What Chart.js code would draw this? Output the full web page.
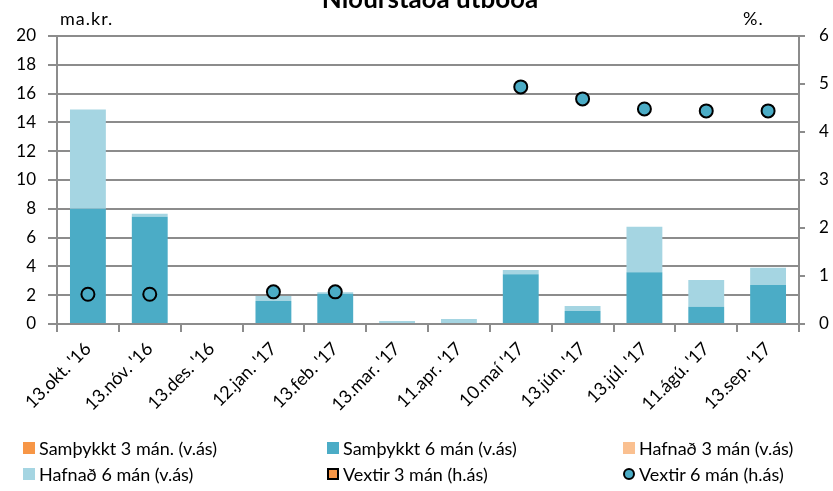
<!DOCTYPE html>
<html>
<head>
<meta charset="utf-8">
<script src="https://cdn.jsdelivr.net/npm/chart.js@4.4.0/dist/chart.umd.min.js"></script>
<style>
  body { margin: 0; background: #fff; overflow: hidden; }
  #wrap { position: relative; width: 833px; height: 491px; }
  #legend { position: absolute; left: 0; top: 436px; width: 833px; font-family: Lato, sans-serif; font-size: 18px; color: #000; }
  .item { position: absolute; white-space: nowrap; line-height: 24px; }
  .sw { position: absolute; left: 0; top: 6px; width: 12px; height: 12px; box-sizing: border-box; }
  .txt { position: absolute; left: 16px; top: 0; }
</style>
</head>
<body>
<div id="wrap">
  <canvas id="chart" width="833" height="491"></canvas>
  <div id="legend"></div>
</div>
<script>
const categories = ["13.okt. '16", "13.nóv. '16", "13.des. '16", "12.jan. '17", "13.feb. '17", "13.mar. '17",
                    "11.apr. '17", "10.maí '17", "13.jún. '17", "13.júl. '17", "11.ágú. '17", "13.sep. '17"];
// billions of kr, left axis
const samthykkt3 = [null, null, null, null, null, null, null, null, null, null, null, null];
const samthykkt6 = [8.0, 7.45, 0, 1.6, 2.1, 0, 0, 3.45, 0.9, 3.6, 1.2, 2.7];
const hafnad3    = [null, null, null, null, null, null, null, null, null, null, null, null];
const hafnad6    = [6.9, 0.2, 0, 0.35, 0.1, 0.2, 0.35, 0.3, 0.35, 3.15, 1.85, 1.2];
// percent, right axis
const vextir3 = [null, null, null, null, null, null, null, null, null, null, null, null];
const vextir6 = [0.62, 0.62, null, 0.67, 0.67, null, null, 4.94, 4.69, 4.48, 4.44, 4.44];
const leftTicks = [0, 2, 4, 6, 8, 10, 12, 14, 16, 18, 20];
const rightTicks = [0, 1, 2, 3, 4, 5, 6];

const FONT = 'Lato, sans-serif';
const gridColor = '#8c8c8c';

// title and unit labels drawn straight onto the canvas
const headerText = {
  id: 'headerText',
  afterDraw(chart) {
    const ctx = chart.ctx;
    ctx.save();
    ctx.fillStyle = '#000';
    ctx.textBaseline = 'alphabetic';
    ctx.font = 'bold 26px ' + FONT;
    ctx.textAlign = 'center';
    ctx.fillText('Niðurstaða útboða', 430, 8);
    ctx.font = '18px ' + FONT;
    ctx.textAlign = 'left';
    ctx.letterSpacing = '1px';
    ctx.fillText('ma.kr.', 60, 25);
    ctx.fillText('%.', 743, 25);
    ctx.restore();
  }
};

const chart = new Chart(document.getElementById('chart'), {
  type: 'bar',
  data: {
    labels: categories,
    datasets: [
      { label: 'Samþykkt 3 mán. (v.ás)', data: samthykkt3, backgroundColor: '#F79646', stack: 's', yAxisID: 'y', order: 2 },
      { label: 'Samþykkt 6 mán (v.ás)', data: samthykkt6, backgroundColor: '#4BACC6', stack: 's', yAxisID: 'y', order: 2 },
      { label: 'Hafnað 3 mán (v.ás)', data: hafnad3, backgroundColor: '#FAC090', stack: 's', yAxisID: 'y', order: 2 },
      { label: 'Hafnað 6 mán (v.ás)', data: hafnad6, backgroundColor: '#A5D5E2', stack: 's', yAxisID: 'y', order: 2 },
      { type: 'line', label: 'Vextir 3 mán (h.ás)', data: vextir3, showLine: false, yAxisID: 'y1', order: 1,
        pointStyle: 'rect', pointRadius: 6, backgroundColor: '#F79646', borderColor: '#000', borderWidth: 2 },
      { type: 'line', label: 'Vextir 6 mán (h.ás)', data: vextir6, showLine: false, yAxisID: 'y1', order: 1,
        pointStyle: 'circle', pointRadius: 6.5, backgroundColor: '#4BACC6', borderColor: '#000', borderWidth: 2 }
    ]
  },
  options: {
    responsive: false,
    animation: false,
    layout: { padding: { top: 36, left: 0, right: 0, bottom: 0 } },
    datasets: { bar: { barPercentage: 0.58, categoryPercentage: 1 } },
    plugins: {
      legend: { display: false },
      title: { display: false },
      tooltip: { enabled: false }
    },
    scales: {
      x: {
        stacked: true,
        grid: { offset: true, drawOnChartArea: false, color: gridColor, lineWidth: 2, tickLength: 8 },
        border: { color: gridColor, width: 2 },
        ticks: { color: '#000', font: { family: FONT, size: 18 }, minRotation: 45, maxRotation: 45, padding: 6 },
        afterFit(scale) { scale.height = 491 - 36 - 288; }
      },
      y: {
        position: 'left',
        stacked: true,
        min: 0, max: 20,
        afterBuildTicks(scale) { scale.ticks = leftTicks.map(v => ({ value: v })); },
        grid: { color: gridColor, lineWidth: 2, tickLength: 9 },
        border: { color: gridColor, width: 2 },
        ticks: { color: '#000', font: { family: FONT, size: 17 }, padding: 12 },
        afterFit(scale) { scale.width = 57; }
      },
      y1: {
        position: 'right',
        min: 0, max: 6,
        afterBuildTicks(scale) { scale.ticks = rightTicks.map(v => ({ value: v })); },
        grid: { drawOnChartArea: false, color: gridColor, lineWidth: 2, tickLength: 6 },
        border: { color: gridColor, width: 2 },
        ticks: { color: '#000', font: { family: FONT, size: 17 }, padding: 14 },
        afterFit(scale) { scale.width = 34; }
      }
    }
  },
  plugins: [headerText]
});

// legend laid out in three columns, built from the datasets
const legendPos = [[23, 0], [327, 0], [623, 0], [23, 26], [327, 26], [623, 26]];
const legendEl = document.getElementById('legend');
chart.data.datasets.forEach((ds, i) => {
  const item = document.createElement('div');
  item.className = 'item';
  item.style.left = legendPos[i][0] + 'px';
  item.style.top = legendPos[i][1] + 'px';
  const sw = document.createElement('span');
  sw.className = 'sw';
  sw.style.background = ds.backgroundColor;
  if (ds.type === 'line') {
    sw.style.border = '2px solid #000';
    if (ds.pointStyle === 'circle') sw.style.borderRadius = '50%';
  }
  const txt = document.createElement('span');
  txt.className = 'txt';
  txt.textContent = ds.label;
  item.appendChild(sw);
  item.appendChild(txt);
  legendEl.appendChild(item);
});
</script>
</body>
</html>
